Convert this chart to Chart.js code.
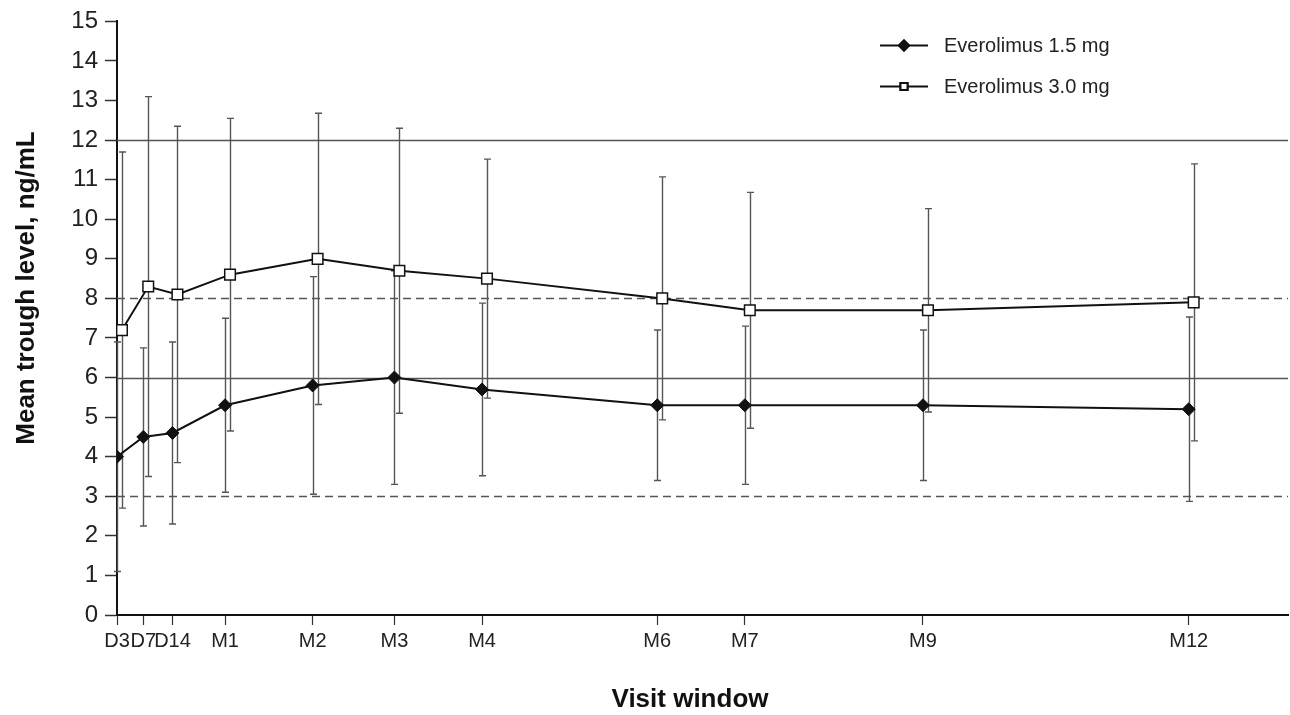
<!DOCTYPE html>
<html>
<head>
<meta charset="utf-8">
<script src="https://cdn.jsdelivr.net/npm/chart.js@4.4.1/dist/chart.umd.min.js"></script>
<style>
html, body { margin: 0; padding: 0; background: #fff; }
</style>
</head>
<body>
<canvas id="troughChart" width="1290" height="715"></canvas>
<script>
const visitLabels = ["D3", "D7", "D14", "M1", "M2", "M3", "M4", "M6", "M7", "M9", "M12"];
// where each visit sits along the axis, in days
const visitPos = [-6, 3, 13, 31, 61, 89, 119, 179, 209, 270, 361];

const mean15 = [4.0, 4.5, 4.6, 5.3, 5.8, 6.0, 5.7, 5.3, 5.3, 5.3, 5.2];
const sd15 = [2.9, 2.25, 2.3, 2.2, 2.75, 2.7, 2.18, 1.9, 2.0, 1.9, 2.33];
const mean30 = [7.2, 8.3, 8.1, 8.6, 9.0, 8.7, 8.5, 8.0, 7.7, 7.7, 7.9];
const sd30 = [4.5, 4.8, 4.25, 3.95, 3.68, 3.6, 3.02, 3.07, 2.98, 2.57, 3.5];

const solidRefs = [6, 12];
const dashedRefs = [3, 8];

const seriesNames = ["Everolimus 1.5 mg", "Everolimus 3.0 mg"];
const yTitle = "Mean trough level, ng/mL";
const xTitle = "Visit window";

const dodge = 1.7; // small sideways shift of the 3.0 mg series

const FONT = "'Liberation Sans', Arial, sans-serif";

const refAndBars = {
    id: "refAndBars",
    beforeDatasetsDraw(chart) {
        const { ctx, chartArea: a, scales: { y } } = chart;
        ctx.save();
        ctx.strokeStyle = "#555";
        ctx.lineWidth = 1.6;
        solidRefs.forEach(v => {
            const py = Math.round(y.getPixelForValue(v)) + 0.5;
            ctx.beginPath();
            ctx.moveTo(a.left, py);
            ctx.lineTo(a.right, py);
            ctx.stroke();
        });
        ctx.setLineDash([8, 5]);
        dashedRefs.forEach(v => {
            const py = Math.round(y.getPixelForValue(v)) + 0.5;
            ctx.beginPath();
            ctx.moveTo(a.left, py);
            ctx.lineTo(a.right, py);
            ctx.stroke();
        });
        ctx.setLineDash([]);

        // error bars (mean ± SD)
        ctx.strokeStyle = "#555";
        ctx.lineWidth = 1.4;
        chart.data.datasets.forEach((ds, i) => {
            const meta = chart.getDatasetMeta(i);
            meta.data.forEach((pt, j) => {
                const m = ds.data[j].y;
                const e = ds.errors[j];
                const px = Math.round(pt.x) + 0.5;
                const top = y.getPixelForValue(m + e);
                const bot = y.getPixelForValue(m - e);
                ctx.beginPath();
                ctx.moveTo(px, top);
                ctx.lineTo(px, bot);
                ctx.moveTo(px - 3.5, top);
                ctx.lineTo(px + 3.5, top);
                ctx.moveTo(px - 3.5, bot);
                ctx.lineTo(px + 3.5, bot);
                ctx.stroke();
            });
        });
        ctx.restore();
    }
};

const titlesAndLegend = {
    id: "titlesAndLegend",
    afterDraw(chart) {
        const ctx = chart.ctx;
        ctx.save();
        ctx.fillStyle = "#111";
        ctx.font = "bold 26px " + FONT;
        ctx.textAlign = "center";
        ctx.textBaseline = "alphabetic";
        ctx.fillText(xTitle, 690, 707);

        ctx.translate(34, 288);
        ctx.rotate(-Math.PI / 2);
        ctx.fillText(yTitle, 0, 0);
        ctx.setTransform(1, 0, 0, 1, 0, 0);

        // legend, top right
        const rows = [45, 86];
        chart.data.datasets.forEach((ds, i) => {
            const ly = rows[i];
            ctx.strokeStyle = "#111";
            ctx.lineWidth = 2;
            ctx.beginPath();
            ctx.moveTo(880, ly + 0.5);
            ctx.lineTo(928, ly + 0.5);
            ctx.stroke();
            Chart.helpers.drawPoint(ctx, {
                pointStyle: ds.pointStyle,
                radius: 5,
                borderWidth: 1.3
            }, 904, ly + 0.5);
            ctx.fillStyle = ds.pointBackgroundColor;
            ctx.strokeStyle = "#111";
            ctx.fill();
            ctx.stroke();
            ctx.fillStyle = "#222";
            ctx.font = "20px " + FONT;
            ctx.textAlign = "left";
            ctx.textBaseline = "middle";
            ctx.fillText(seriesNames[i], 944, ly + 1);
        });
        ctx.restore();
    }
};

const troughChart = new Chart(
    document.getElementById("troughChart"),
    {
        type: "line",
        data: {
            datasets: [
                {
                    label: seriesNames[0],
                    data: visitPos.map((d, i) => ({ x: d, y: mean15[i] })),
                    errors: sd15,
                    borderColor: "#111",
                    borderWidth: 2,
                    pointStyle: "rectRot",
                    pointRadius: 6.5,
                    pointBackgroundColor: "#111",
                    pointBorderColor: "#111",
                    pointBorderWidth: 1,
                    tension: 0,
                    fill: false
                },
                {
                    label: seriesNames[1],
                    data: visitPos.map((d, i) => ({ x: d + dodge, y: mean30[i] })),
                    errors: sd30,
                    borderColor: "#111",
                    borderWidth: 2,
                    pointStyle: "rect",
                    pointRadius: 7.5,
                    pointBackgroundColor: "#fff",
                    pointBorderColor: "#111",
                    pointBorderWidth: 1.5,
                    tension: 0,
                    fill: false
                }
            ]
        },
        options: {
            responsive: false,
            animation: false,
            devicePixelRatio: 1,
            layout: {
                autoPadding: false,
                padding: { left: 0, top: 21, right: 2, bottom: 0 }
            },
            plugins: {
                legend: { display: false },
                tooltip: { enabled: false }
            },
            scales: {
                x: {
                    type: "linear",
                    min: -6,
                    max: 395,
                    afterFit(scale) { scale.height = 100; },
                    afterBuildTicks(scale) {
                        scale.ticks = visitPos.map(v => ({ value: v }));
                    },
                    ticks: {
                        autoSkip: false,
                        maxRotation: 0,
                        padding: 4,
                        color: "#222",
                        font: { family: FONT, size: 20 },
                        callback: (val, idx) => visitLabels[idx]
                    },
                    grid: {
                        drawOnChartArea: false,
                        drawTicks: true,
                        tickLength: 10,
                        tickColor: "#333",
                        tickWidth: 1.2
                    },
                    border: { display: true, color: "#111", width: 2 }
                },
                y: {
                    min: 0,
                    max: 15,
                    afterFit(scale) { scale.width = 117; },
                    ticks: {
                        stepSize: 1,
                        padding: 7,
                        color: "#222",
                        font: { family: FONT, size: 24 }
                    },
                    grid: {
                        drawOnChartArea: false,
                        drawTicks: true,
                        tickLength: 12,
                        tickColor: "#333",
                        tickWidth: 1.5
                    },
                    border: { display: true, color: "#111", width: 2 }
                }
            }
        },
        plugins: [refAndBars, titlesAndLegend]
    }
);
</script>
</body>
</html>
